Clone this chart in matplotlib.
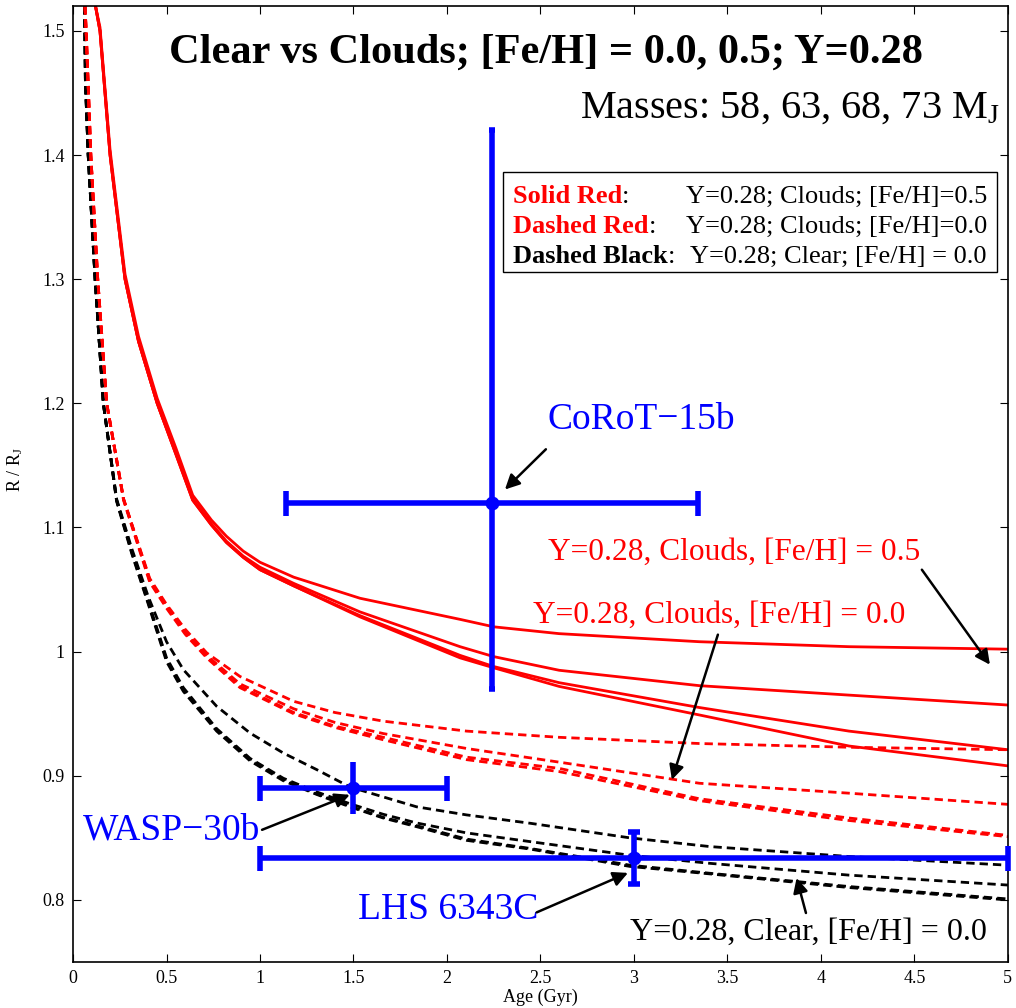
import matplotlib
matplotlib.use('Agg')
import matplotlib.pyplot as plt
from matplotlib.patches import Rectangle

plt.rcParams['font.family'] = ['Liberation Serif', 'DejaVu Serif']
plt.rcParams['mathtext.fontset'] = 'custom'
plt.rcParams['mathtext.rm'] = 'Liberation Serif'
plt.rcParams['mathtext.it'] = 'Liberation Serif:italic'
plt.rcParams['mathtext.bf'] = 'Liberation Serif:bold'

# ---- evolutionary tracks: radius (R_J) vs age (Gyr), masses 58/63/68/73 M_J ----
# Y=0.28, clouds, [Fe/H]=0.5  (solid red)
age_fe05 = [0.12, 0.144, 0.198, 0.278, 0.35, 0.45, 0.55, 0.64, 0.74, 0.82, 0.91, 1.0,
            1.18, 1.535, 2.07, 2.25, 2.6, 3.35, 4.15, 5.0]
fe05_73 = [1.52, 1.503, 1.404, 1.304, 1.254, 1.204, 1.164, 1.126, 1.106, 1.093, 1.081, 1.072,
           1.060, 1.043, 1.026, 1.020, 1.0145, 1.008, 1.004, 1.002]
fe05_68 = [1.52, 1.50, 1.40, 1.30, 1.25, 1.20, 1.160, 1.123, 1.103, 1.089, 1.077, 1.068,
           1.055, 1.032, 1.004, 0.996, 0.985, 0.9726, 0.965, 0.957]
fe05_63 = [1.52, 1.50, 1.40, 1.30, 1.25, 1.20, 1.159, 1.122, 1.102, 1.088, 1.076, 1.066,
           1.053, 1.029, 0.997, 0.988, 0.975, 0.955, 0.936, 0.921]
fe05_58 = [1.52, 1.50, 1.40, 1.30, 1.25, 1.20, 1.159, 1.122, 1.102, 1.088, 1.076, 1.066,
           1.053, 1.028, 0.995, 0.987, 0.972, 0.949, 0.924, 0.908]

# Y=0.28, clouds, [Fe/H]=0.0  (dashed red)
age_fe00 = [0.064, 0.07, 0.095, 0.132, 0.18, 0.27, 0.41, 0.50, 0.60, 0.715, 0.893,
            1.18, 1.40, 1.66, 2.105, 2.6, 3.35, 4.15, 5.0]
fe00_73 = [1.52, 1.50, 1.40, 1.30, 1.20, 1.123, 1.059, 1.038, 1.018, 0.999, 0.980,
           0.960, 0.951, 0.944, 0.936, 0.931, 0.926, 0.923, 0.921]
fe00_68 = [1.52, 1.50, 1.40, 1.30, 1.20, 1.123, 1.058, 1.037, 1.016, 0.997, 0.974,
           0.954, 0.943, 0.934, 0.922, 0.911, 0.894, 0.886, 0.877]
fe00_63 = [1.52, 1.50, 1.40, 1.30, 1.20, 1.123, 1.057, 1.036, 1.015, 0.996, 0.972,
           0.951, 0.940, 0.931, 0.915, 0.906, 0.8815, 0.866, 0.852]
fe00_58 = [1.52, 1.50, 1.40, 1.30, 1.20, 1.122, 1.056, 1.035, 1.014, 0.995, 0.971,
           0.950, 0.939, 0.929, 0.913, 0.9034, 0.880, 0.864, 0.851]

# Y=0.28, clear, [Fe/H]=0.0  (dashed black)
age_clear = [0.062, 0.066, 0.081, 0.118, 0.162, 0.233, 0.314, 0.403, 0.50, 0.59, 0.768,
             0.947, 1.125, 1.303, 1.481, 1.659, 1.838, 2.105, 2.444, 2.979, 3.406, 4.15, 5.0]
clear_73 = [1.52, 1.46, 1.40, 1.30, 1.20, 1.123, 1.083, 1.044, 1.008, 0.9855, 0.956,
            0.9344, 0.9183, 0.905, 0.891, 0.883, 0.875, 0.8685, 0.8618, 0.850, 0.843, 0.835, 0.828]
clear_68 = [1.52, 1.46, 1.40, 1.30, 1.20, 1.122, 1.081, 1.040, 0.995, 0.971, 0.938,
            0.914, 0.898, 0.887, 0.8775, 0.869, 0.862, 0.854, 0.847, 0.836, 0.8295, 0.820, 0.812]
clear_63 = [1.52, 1.46, 1.40, 1.30, 1.20, 1.122, 1.080, 1.039, 0.9935, 0.969, 0.937,
            0.913, 0.897, 0.8855, 0.8755, 0.8665, 0.8598, 0.849, 0.8415, 0.828, 0.8215, 0.8108, 0.8008]
clear_58 = [1.52, 1.46, 1.40, 1.30, 1.20, 1.121, 1.079, 1.038, 0.992, 0.968, 0.936,
            0.912, 0.896, 0.885, 0.875, 0.866, 0.859, 0.848, 0.841, 0.827, 0.821, 0.810, 0.800]

# ---- observed objects ----
planets = ['CoRoT\u221215b', 'WASP\u221230b', 'LHS 6343C']
planet_age = [2.24, 1.5, 3.0]
planet_age_err = [1.1, 0.5, 2.0]
planet_r = [1.12, 0.89, 0.834]
planet_r_lo = [0.15, 0.021, 0.021]
planet_r_hi = [0.30, 0.021, 0.021]

xticks = [0, 0.5, 1, 1.5, 2, 2.5, 3, 3.5, 4, 4.5, 5]
xticklabels = ['0', '0.5', '1', '1.5', '2', '2.5', '3', '3.5', '4', '4.5', '5']
yticks = [0.8, 0.9, 1.0, 1.1, 1.2, 1.3, 1.4, 1.5]
yticklabels = ['0.8', '0.9', '1', '1.1', '1.2', '1.3', '1.4', '1.5']

fig = plt.figure(figsize=(10.16, 10.08), dpi=100)
ax = fig.add_axes([0.0719, 0.0456, 0.9201, 0.9484])

dash = [3, 1.8]
for r in [clear_73, clear_68, clear_63, clear_58]:
    ax.plot(age_clear, r, color='k', lw=2, dashes=dash)
for r in [fe00_73, fe00_68, fe00_63, fe00_58]:
    ax.plot(age_fe00, r, color='red', lw=2, dashes=dash)
for r in [fe05_73, fe05_68, fe05_63, fe05_58]:
    ax.plot(age_fe05, r, color='red', lw=2)

# error bars: short caps on radius, long caps on age
ycaps = [2.5, 0, 4]
for i in range(len(planets)):
    ax.errorbar(planet_age[i], planet_r[i],
                yerr=[[planet_r_lo[i]], [planet_r_hi[i]]],
                fmt='o', color='blue', ms=9, lw=4, capsize=ycaps[i], capthick=4,
                clip_on=False, zorder=5)
    ax.errorbar(planet_age[i], planet_r[i], xerr=planet_age_err[i],
                fmt='none', ecolor='blue', lw=4, capsize=9, capthick=4,
                clip_on=False, zorder=5)

ax.set_xlim(0, 5)
ax.set_ylim(0.75, 1.52)
ax.set_xticks(xticks)
ax.set_xticklabels(xticklabels)
ax.set_yticks(yticks)
ax.set_yticklabels(yticklabels)
ax.tick_params(direction='in', length=6, width=0.8, top=True, right=True,
               labelsize=13, pad=6)
for s in ax.spines.values():
    s.set_linewidth(1.2)
ax.set_xlabel('Age (Gyr)', fontsize=13, labelpad=1)
ax.set_ylabel('R / R$_\\mathrm{J}$', fontsize=13)
ax.yaxis.set_label_coords(-0.051, 0.515)

ax.text(0.506, 0.951, 'Clear vs Clouds; [Fe/H] = 0.0, 0.5; Y=0.28', transform=ax.transAxes,
        ha='center', va='center', fontsize=30.5, fontweight='bold')
ax.text(0.991, 0.893, 'Masses: 58, 63, 68, 73 M$_\\mathrm{J}$', transform=ax.transAxes,
        ha='right', va='center', fontsize=29)

# key box
ax.add_patch(Rectangle((0.460, 0.722), 0.528, 0.104, transform=ax.transAxes,
                       fill=False, edgecolor='k', lw=1, zorder=6))
key_rows = [('Solid Red', 'red', 'Y=0.28; Clouds; [Fe/H]=0.5', 0.6556, 0.7939),
            ('Dashed Red', 'red', 'Y=0.28; Clouds; [Fe/H]=0.0', 0.6556, 0.7626),
            ('Dashed Black', 'k', 'Y=0.28; Clear; [Fe/H] = 0.0', 0.660, 0.7312)]
for name, col, desc, xdesc, yrow in key_rows:
    t = ax.text(0.4706, yrow, name, transform=ax.transAxes, color=col,
                fontweight='bold', fontsize=19, va='baseline', zorder=7)
    ax.annotate(':', xy=(1, 0), xycoords=t, fontsize=19, va='bottom', ha='left', zorder=7)
    ax.text(xdesc, yrow, desc, transform=ax.transAxes, fontsize=19, va='baseline', zorder=7)

arrow = dict(arrowstyle='-|>', color='k', lw=1.8, mutation_scale=22, shrinkA=0, shrinkB=0)

ax.text(2.535, 1.187, planets[0], color='blue', fontsize=27, va='center')
ax.annotate('', xy=(2.31, 1.1306), xytext=(2.529, 1.163), arrowprops=arrow)

ax.text(2.54, 1.0798, 'Y=0.28, Clouds, [Fe/H] = 0.5', color='red', fontsize=22.6, va='center')
ax.annotate('', xy=(4.904, 0.9895), xytext=(4.54, 1.066), arrowprops=arrow)

ax.text(2.46, 1.029, 'Y=0.28, Clouds, [Fe/H] = 0.0', color='red', fontsize=22.6, va='center')
ax.annotate('', xy=(3.203, 0.8968), xytext=(3.449, 1.0137), arrowprops=arrow)

ax.text(1.0, 0.8565, planets[1], color='blue', fontsize=27, va='center', ha='right')
ax.annotate('', xy=(1.48, 0.8847), xytext=(1.011, 0.8565), arrowprops=arrow)

ax.text(1.524, 0.792, planets[2], color='blue', fontsize=27, va='center')
ax.annotate('', xy=(2.968, 0.8218), xytext=(2.48, 0.790), arrowprops=arrow)

ax.text(2.98, 0.774, 'Y=0.28, Clear, [Fe/H] = 0.0', color='k', fontsize=23, va='center')
ax.annotate('', xy=(3.87, 0.8177), xytext=(3.92, 0.7895), arrowprops=arrow)

fig.savefig('out.png', dpi=100)
